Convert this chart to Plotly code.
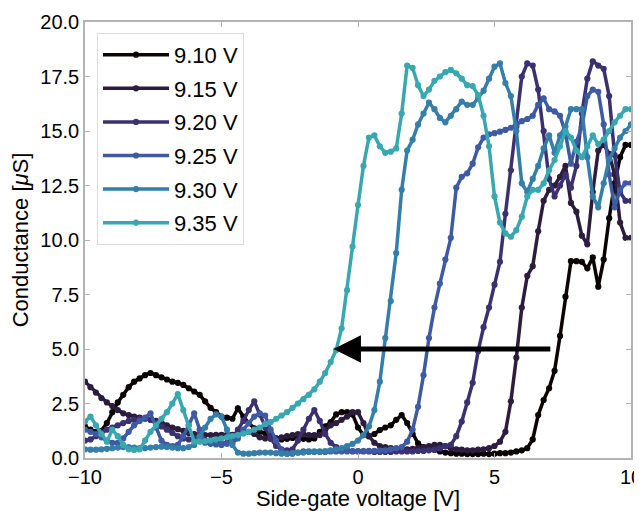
import plotly.graph_objects as go

# Side-gate voltage sweep (V), 0.2 V steps
voltages = [round(-10 + 0.2 * i, 1) for i in range(101)]

labels = ["9.10 V", "9.15 V", "9.20 V", "9.25 V", "9.30 V", "9.35 V"]
colors = ["#0b0405", "#2c1d3c", "#3b3170", "#3d5aa3", "#347ea8", "#38a7b0"]

g_910 = [1.45, 1.30, 1.20, 1.25, 1.60, 2.10, 2.55, 2.90, 3.25, 3.50,
         3.65, 3.80, 3.90, 3.80, 3.70, 3.60, 3.50, 3.45, 3.35, 3.20,
         3.05, 2.90, 2.60, 2.30, 2.10, 1.90, 1.85, 1.80, 2.28, 1.90,
         1.60, 1.36, 1.20, 1.13, 1.00, 0.90, 0.85, 0.88, 0.92, 0.90,
         0.88, 0.85, 0.90, 1.20, 1.45, 1.65, 2.00, 2.10, 2.10, 2.00,
         1.40, 1.05, 1.00, 1.10, 1.28, 1.40, 1.50, 1.75, 1.97, 1.60,
         1.10, 0.67, 0.50, 0.42, 0.38, 0.30, 0.25, 0.22, 0.20, 0.20,
         0.18, 0.18, 0.18, 0.20, 0.18, 0.20, 0.22, 0.22, 0.25, 0.30,
         0.35, 0.45, 0.85, 1.97, 2.66, 3.20, 4.00, 5.60, 7.40, 9.03,
         9.03, 9.00, 8.70, 9.20, 7.86, 9.10, 11.00, 12.60, 13.80, 14.36,
         14.36]

g_915 = [3.50, 3.25, 3.00, 2.75, 2.55, 2.38, 2.20, 2.05, 1.97, 1.90,
         1.85, 1.82, 1.75, 1.70, 1.62, 1.50, 1.40, 1.32, 1.25, 1.15,
         1.10, 1.06, 1.05, 1.05, 1.06, 1.06, 1.05, 1.06, 1.10, 1.15,
         1.20, 1.10, 0.95, 0.90, 0.88, 0.90, 0.95, 1.00, 1.05, 1.10,
         1.08, 1.05, 1.05, 1.05, 1.30, 1.50, 1.60, 1.75, 1.90, 2.10,
         2.10, 1.60, 1.00, 0.70, 0.55, 0.50, 0.45, 0.42, 0.40, 0.40,
         0.42, 0.45, 0.50, 0.55, 0.60, 0.60, 0.55, 0.45, 0.40, 0.38,
         0.35, 0.35, 0.38, 0.40, 0.45, 0.55, 0.75, 1.20, 2.60, 4.60,
         6.90, 8.35, 8.80, 10.40, 11.80, 12.30, 12.50, 12.90, 13.40, 11.70,
         11.30, 10.20, 9.80, 12.20, 14.10, 14.40, 13.95, 13.00, 10.80, 10.10,
         10.10]

g_920 = [0.80, 0.85, 1.00, 1.15, 1.30, 1.40, 1.50, 1.60, 1.70, 1.75,
         1.80, 1.80, 1.75, 1.60, 1.45, 1.30, 1.15, 1.00, 0.90, 0.85,
         0.90, 0.85, 0.80, 0.75, 0.70, 0.65, 0.70, 0.90, 1.30, 1.70,
         2.20, 2.60, 2.00, 1.40, 0.90, 0.55, 0.40, 0.35, 0.40, 0.80,
         1.30, 1.80, 2.20, 1.70, 1.10, 0.70, 0.50, 0.40, 0.35, 0.30,
         0.30, 0.30, 0.30, 0.28, 0.28, 0.28, 0.28, 0.30, 0.30, 0.30,
         0.30, 0.32, 0.32, 0.35, 0.38, 0.44, 0.55, 0.60, 1.00, 1.67,
         2.55, 3.45, 4.90, 6.00, 6.90, 7.95, 9.00, 11.20, 13.20, 15.20,
         17.50, 18.10, 18.00, 16.90, 15.00, 12.80, 12.00, 12.50, 13.00, 12.40,
         13.40, 15.80, 17.40, 18.20, 18.00, 17.85, 16.60, 13.90, 12.20, 11.80,
         11.80]

g_925 = [1.30, 1.20, 1.10, 0.95, 0.80, 0.70, 0.70, 0.90, 1.20, 1.50,
         1.70, 1.85, 2.05, 1.40, 0.80, 0.60, 0.55, 0.60, 1.00, 1.50,
         2.05, 1.30, 0.70, 0.65, 0.62, 0.60, 0.65, 0.70, 0.90, 1.30,
         1.60, 1.90, 2.05, 1.95, 1.30, 0.80, 0.35, 0.20, 0.20, 0.25,
         0.30, 0.30, 0.28, 0.28, 0.28, 0.30, 0.30, 0.30, 0.30, 0.32,
         0.32, 0.32, 0.33, 0.33, 0.34, 0.35, 0.40, 0.45, 0.50, 0.75,
         1.30, 2.35, 3.80, 5.50, 6.90, 8.00, 9.10, 10.10, 12.40, 12.90,
         13.06, 13.50, 14.25, 14.70, 14.85, 14.90, 14.97, 15.05, 15.15, 15.30,
         15.45, 15.55, 15.70, 16.20, 16.50, 16.00, 15.90, 15.70, 14.90, 13.50,
         14.50, 15.20, 16.60, 16.90, 16.80, 15.30, 13.00, 11.50, 12.30, 12.60,
         12.60]

g_930 = [0.40, 0.38, 0.38, 0.40, 0.42, 0.45, 0.48, 0.50, 0.50, 0.48,
         0.45, 0.45, 0.48, 0.50, 0.52, 0.50, 0.48, 0.45, 0.45, 0.50,
         0.60, 1.00, 1.40, 1.80, 2.00, 1.90, 1.30, 0.60, 0.25, 0.20,
         0.20, 0.22, 0.25, 0.25, 0.25, 0.22, 0.20, 0.20, 0.22, 0.25,
         0.25, 0.28, 0.30, 0.30, 0.32, 0.35, 0.40, 0.45, 0.55, 0.65,
         0.80, 1.05, 1.45, 2.20, 3.50, 5.50, 7.20, 9.40, 12.30, 14.10,
         14.60, 15.30, 15.80, 16.30, 16.00, 15.60, 15.40, 15.70, 16.00, 16.35,
         16.20, 16.20, 16.50, 16.85, 17.40, 17.95, 18.10, 17.20, 16.60, 15.00,
         12.60, 12.20, 12.80, 13.40, 14.20, 14.80, 14.00, 14.80, 15.20, 16.00,
         16.00, 16.00, 13.80, 12.00, 11.50, 12.60, 13.70, 14.20, 14.70, 15.00,
         15.30]

g_935 = [1.67, 1.90, 1.50, 1.10, 0.75, 1.30, 1.00, 0.60, 0.40, 0.37,
         0.40, 0.80, 1.20, 1.50, 1.80, 2.10, 2.50, 2.93, 2.20, 1.50,
         0.75, 0.75, 0.77, 0.80, 0.85, 0.90, 0.95, 1.00, 1.05, 1.12,
         1.20, 1.30, 1.40, 1.55, 1.65, 1.80, 1.95, 2.10, 2.30, 2.50,
         2.70, 2.90, 3.15, 3.50, 3.90, 4.40, 4.95, 5.95, 7.70, 9.70,
         11.60, 13.40, 14.70, 14.80, 14.30, 14.00, 14.05, 14.20, 15.80, 18.00,
         17.90, 17.10, 16.60, 16.90, 17.30, 17.50, 17.70, 17.80, 17.65, 17.40,
         17.10, 17.06, 16.65, 15.70, 14.30, 12.00, 10.80, 10.30, 10.15, 10.45,
         11.07, 12.00, 12.30, 12.30, 12.60, 13.20, 13.67, 14.30, 15.00, 14.70,
         14.10, 13.80, 14.30, 14.80, 14.40, 14.60, 15.00, 15.40, 15.70, 16.00,
         16.00]

series = [g_910, g_915, g_920, g_925, g_930, g_935]

# Arrow (shift direction) endpoints in data units
arrow_start = (7.1, 5.0)
arrow_end = (-0.9, 5.0)

FONT = "Liberation Sans"
FRAME = "#b3b3b3"

fig = go.Figure()
for name, col, ys in zip(labels, colors, series):
    fig.add_trace(go.Scatter(
        x=voltages, y=ys, name=name, legendgroup=name,
        mode="lines+markers",
        line=dict(color=col, width=3.5),
        marker=dict(color=col, size=6.2),
    ))

fig.add_annotation(
    x=arrow_end[0], y=arrow_end[1], ax=arrow_start[0], ay=arrow_start[1],
    xref="x", yref="y", axref="x", ayref="y",
    showarrow=True, arrowhead=2, arrowsize=1.1, arrowwidth=5,
    arrowcolor="black", text="",
)

axis_common = dict(
    showline=True, linecolor=FRAME, linewidth=1.5, mirror="ticks",
    ticks="inside", ticklen=5, tickcolor=FRAME, tickwidth=1,
    showgrid=False, zeroline=False, automargin=False,
    ticklabeloverflow="allow",
    tickfont=dict(family=FONT, size=20, color="black"),
)

fig.update_xaxes(
    range=[-10, 10], tickvals=[-10, -5, 0, 5, 10],
    title=dict(text="Side-gate voltage [V]", font=dict(family=FONT, size=22, color="black"), standoff=3),
    **axis_common,
)
fig.update_yaxes(
    range=[0, 20], tickvals=[0, 2.5, 5, 7.5, 10, 12.5, 15, 17.5, 20], tickformat=".1f",
    title=dict(text="Conductance [<i>μ</i>S]", font=dict(family=FONT, size=22, color="black"), standoff=10),
    **axis_common,
)

# page body adds an 8px offset at top/left; size the figure so the plot area lands where the reference has it
fig.update_layout(
    width=634, height=503,
    margin=dict(l=77, r=11, t=14, b=53),
    paper_bgcolor="white", plot_bgcolor="white",
    font=dict(family=FONT, size=20, color="black"),
    showlegend=True,
    legend=dict(
        x=0.022, y=0.975, xanchor="left", yanchor="top",
        bgcolor="rgba(255,255,255,0.85)", bordercolor="#dcdcdc", borderwidth=1,
        font=dict(family=FONT, size=22, color="black"),
        tracegroupgap=2, itemwidth=66,
    ),
)

fig.write_html("out.html")
